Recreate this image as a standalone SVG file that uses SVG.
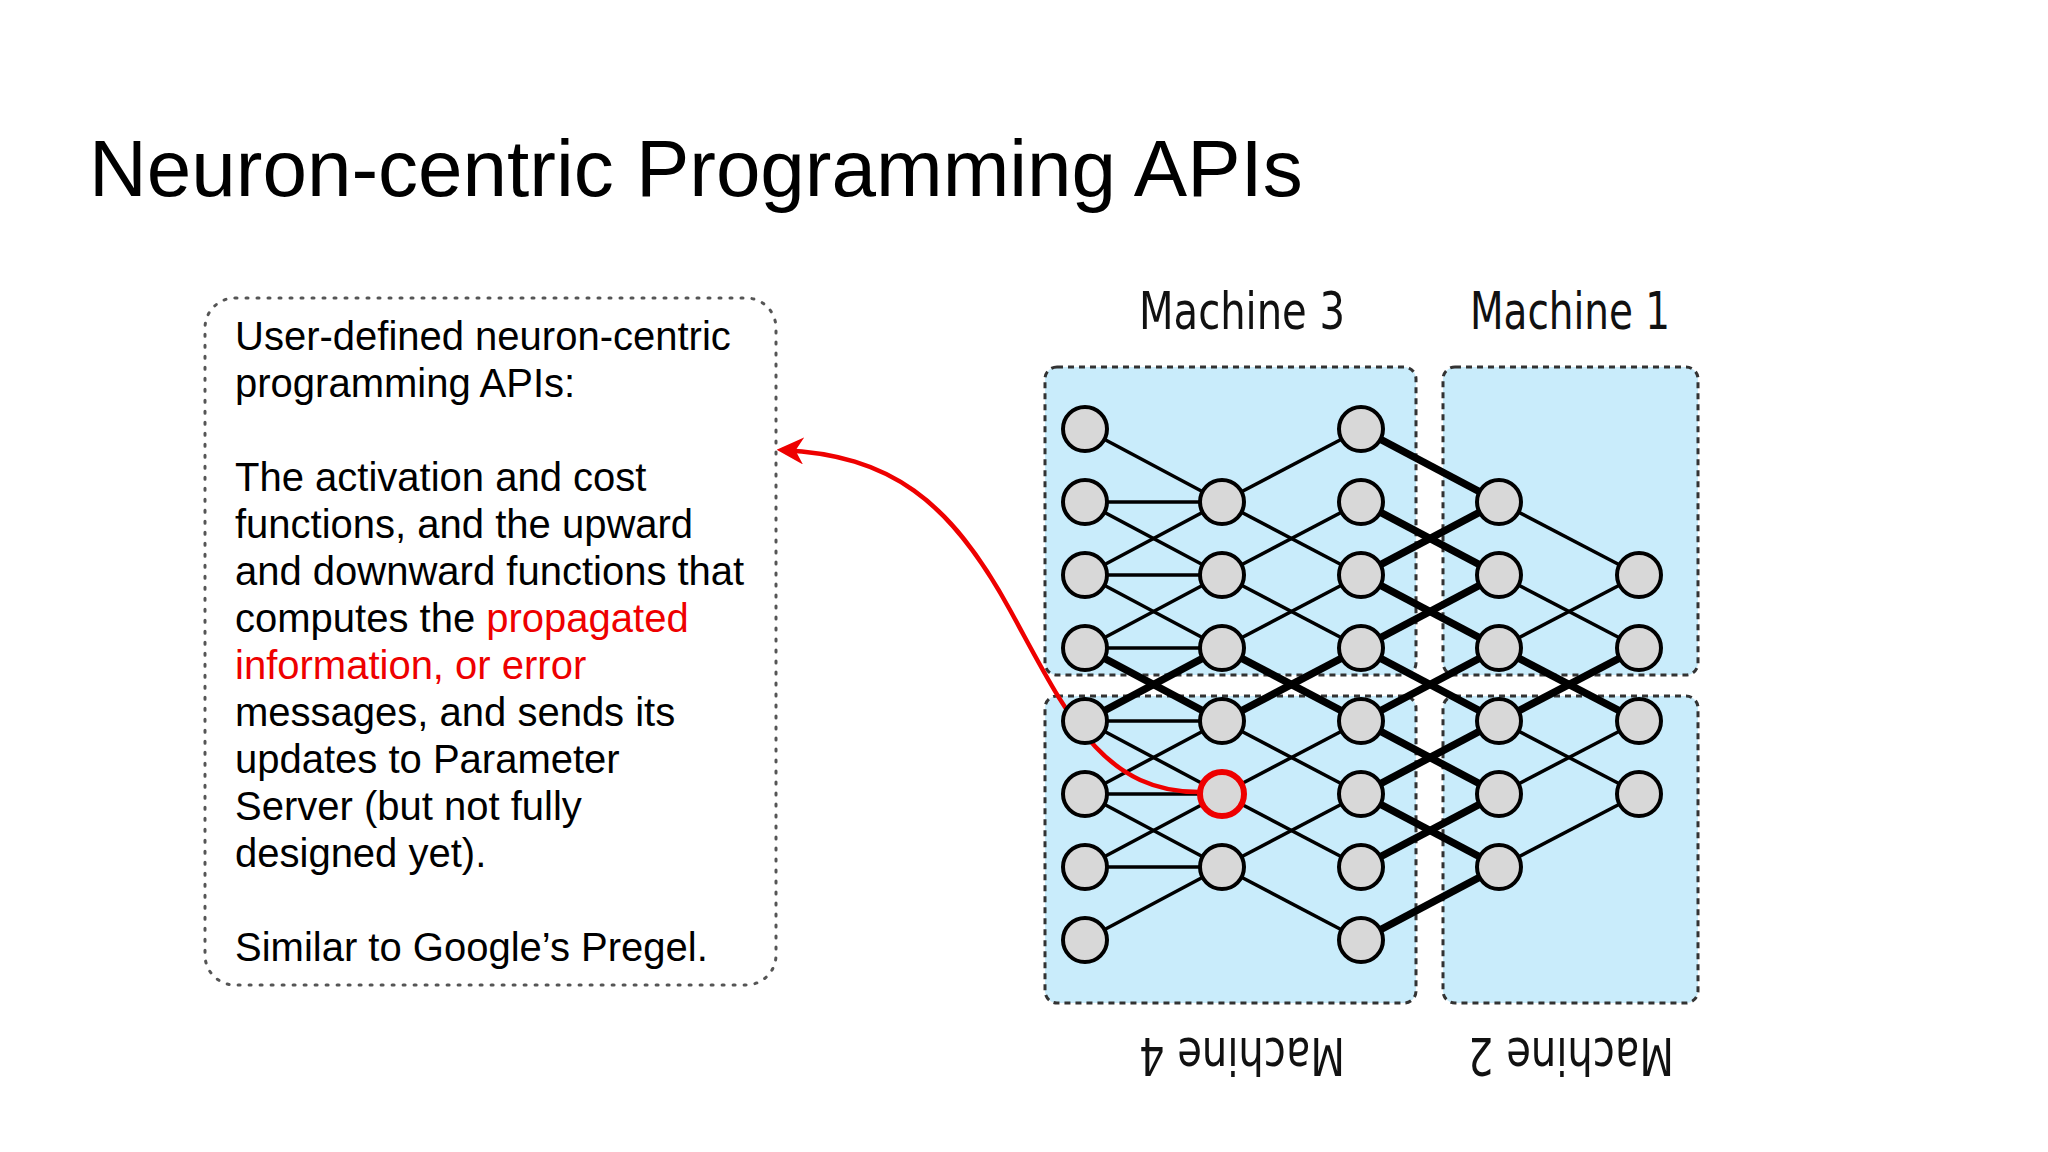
<svg xmlns="http://www.w3.org/2000/svg" width="2048" height="1152" viewBox="0 0 2048 1152">
<style>
.t{font-family:"Liberation Sans",Arial,sans-serif;font-size:40px;fill:#000}
.m{font-family:"DejaVu Sans Condensed","DejaVu Sans",sans-serif;font-size:52px;fill:#111;text-anchor:middle}
.box{fill:#c9ecfb;stroke:#333;stroke-width:3;stroke-dasharray:6,5}
.n{fill:#d8d8d8;stroke:#000;stroke-width:4}
.e{stroke:#000;stroke-width:3.5}
.k{stroke:#000;stroke-width:7.5}
</style>
<defs>
<marker id="ah" viewBox="0 0 10 10" refX="8" refY="5" markerWidth="6" markerHeight="6" orient="auto"><path d="M0,0 L10,5 L0,10 L3,5 z" fill="#e00"/></marker>
</defs>
<rect width="2048" height="1152" fill="#fff"/>
<text x="89" y="196" font-family="Liberation Sans,Arial,sans-serif" font-size="80">Neuron-centric Programming APIs</text>
<g id="textbox">
<rect x="205" y="298" width="571" height="687" rx="30" fill="none" stroke="#555" stroke-width="3" stroke-dasharray="2,9" stroke-linecap="round"/>
<text class="t" x="235" y="350">User-defined neuron-centric</text>
<text class="t" x="235" y="397">programming APIs:</text>
<text class="t" x="235" y="491">The activation and cost</text>
<text class="t" x="235" y="538">functions, and the upward</text>
<text class="t" x="235" y="585">and downward functions that</text>
<text class="t" x="235" y="632">computes the <tspan fill="#e00">propagated</tspan></text>
<text class="t" x="235" y="679" style="fill:#e00">information, or error</text>
<text class="t" x="235" y="726">messages, and sends its</text>
<text class="t" x="235" y="773">updates to Parameter</text>
<text class="t" x="235" y="820">Server (but not fully</text>
<text class="t" x="235" y="867">designed yet).</text>
<text class="t" x="235" y="961">Similar to Google’s Pregel.</text>
</g>
<g id="machines">
<rect class="box" x="1045" y="367" width="371" height="308" rx="12"/>
<rect class="box" x="1443" y="367" width="255" height="308" rx="12"/>
<rect class="box" x="1045" y="696" width="371" height="307" rx="12"/>
<rect class="box" x="1443" y="696" width="255" height="307" rx="12"/>
<text class="m" x="1242" y="329" textLength="206" lengthAdjust="spacingAndGlyphs">Machine 3</text>
<text class="m" x="1570" y="329" textLength="200" lengthAdjust="spacingAndGlyphs">Machine 1</text>
<text class="m" transform="translate(1242,1038) rotate(180)" textLength="206" lengthAdjust="spacingAndGlyphs">Machine 4</text>
<text class="m" transform="translate(1571,1038) rotate(180)" textLength="206" lengthAdjust="spacingAndGlyphs">Machine 2</text>
</g>
<g id="connectors">
<line class="e" x1="1085" y1="502" x2="1222" y2="502"/>
<line class="e" x1="1085" y1="575" x2="1222" y2="575"/>
<line class="e" x1="1085" y1="648" x2="1222" y2="648"/>
<line class="e" x1="1085" y1="721" x2="1222" y2="721"/>
<line class="e" x1="1085" y1="794" x2="1222" y2="794"/>
<line class="e" x1="1085" y1="867" x2="1222" y2="867"/>
<line class="e" x1="1085" y1="429" x2="1222" y2="502"/>
<line class="e" x1="1085" y1="502" x2="1222" y2="575"/>
<line class="e" x1="1085" y1="575" x2="1222" y2="648"/>
<line class="k" x1="1085" y1="648" x2="1222" y2="721"/>
<line class="e" x1="1085" y1="721" x2="1222" y2="794"/>
<line class="e" x1="1085" y1="794" x2="1222" y2="867"/>
<line class="e" x1="1085" y1="575" x2="1222" y2="502"/>
<line class="e" x1="1085" y1="648" x2="1222" y2="575"/>
<line class="k" x1="1085" y1="721" x2="1222" y2="648"/>
<line class="e" x1="1085" y1="794" x2="1222" y2="721"/>
<line class="e" x1="1085" y1="867" x2="1222" y2="794"/>
<line class="e" x1="1085" y1="940" x2="1222" y2="867"/>
<line class="e" x1="1222" y1="502" x2="1361" y2="429"/>
<line class="e" x1="1222" y1="502" x2="1361" y2="575"/>
<line class="e" x1="1222" y1="575" x2="1361" y2="502"/>
<line class="e" x1="1222" y1="575" x2="1361" y2="648"/>
<line class="e" x1="1222" y1="648" x2="1361" y2="575"/>
<line class="k" x1="1222" y1="648" x2="1361" y2="721"/>
<line class="k" x1="1222" y1="721" x2="1361" y2="648"/>
<line class="e" x1="1222" y1="721" x2="1361" y2="794"/>
<line class="e" x1="1222" y1="794" x2="1361" y2="721"/>
<line class="e" x1="1222" y1="794" x2="1361" y2="867"/>
<line class="e" x1="1222" y1="867" x2="1361" y2="794"/>
<line class="e" x1="1222" y1="867" x2="1361" y2="940"/>
<line class="k" x1="1361" y1="429" x2="1499" y2="502"/>
<line class="k" x1="1361" y1="502" x2="1499" y2="575"/>
<line class="k" x1="1361" y1="575" x2="1499" y2="502"/>
<line class="k" x1="1361" y1="575" x2="1499" y2="648"/>
<line class="k" x1="1361" y1="648" x2="1499" y2="575"/>
<line class="k" x1="1361" y1="648" x2="1499" y2="721"/>
<line class="k" x1="1361" y1="721" x2="1499" y2="648"/>
<line class="k" x1="1361" y1="721" x2="1499" y2="794"/>
<line class="k" x1="1361" y1="794" x2="1499" y2="721"/>
<line class="k" x1="1361" y1="794" x2="1499" y2="867"/>
<line class="k" x1="1361" y1="867" x2="1499" y2="794"/>
<line class="k" x1="1361" y1="940" x2="1499" y2="867"/>
<line class="e" x1="1499" y1="502" x2="1639" y2="575"/>
<line class="e" x1="1499" y1="575" x2="1639" y2="648"/>
<line class="e" x1="1499" y1="648" x2="1639" y2="575"/>
<line class="k" x1="1499" y1="648" x2="1639" y2="721"/>
<line class="k" x1="1499" y1="721" x2="1639" y2="648"/>
<line class="e" x1="1499" y1="721" x2="1639" y2="794"/>
<line class="e" x1="1499" y1="794" x2="1639" y2="721"/>
<line class="e" x1="1499" y1="867" x2="1639" y2="794"/>
<path d="M1199,792 C1100,792 1065,710 1010,610 C950,500 890,455 782,450" fill="none" stroke="#e00" stroke-width="4.5" marker-end="url(#ah)"/>
</g>
<g id="nodes">
<g id="c0"><circle class="n" cx="1085" cy="429" r="22"/><circle class="n" cx="1085" cy="502" r="22"/><circle class="n" cx="1085" cy="575" r="22"/><circle class="n" cx="1085" cy="648" r="22"/><circle class="n" cx="1085" cy="721" r="22"/><circle class="n" cx="1085" cy="794" r="22"/><circle class="n" cx="1085" cy="867" r="22"/><circle class="n" cx="1085" cy="940" r="22"/></g>
<g id="c1"><circle class="n" cx="1222" cy="502" r="22"/><circle class="n" cx="1222" cy="575" r="22"/><circle class="n" cx="1222" cy="648" r="22"/><circle class="n" cx="1222" cy="721" r="22"/><circle class="n" cx="1222" cy="794" r="22" style="stroke:#e00;stroke-width:6"/><circle class="n" cx="1222" cy="867" r="22"/></g>
<g id="c2"><circle class="n" cx="1361" cy="429" r="22"/><circle class="n" cx="1361" cy="502" r="22"/><circle class="n" cx="1361" cy="575" r="22"/><circle class="n" cx="1361" cy="648" r="22"/><circle class="n" cx="1361" cy="721" r="22"/><circle class="n" cx="1361" cy="794" r="22"/><circle class="n" cx="1361" cy="867" r="22"/><circle class="n" cx="1361" cy="940" r="22"/></g>
<g id="c3"><circle class="n" cx="1499" cy="502" r="22"/><circle class="n" cx="1499" cy="575" r="22"/><circle class="n" cx="1499" cy="648" r="22"/><circle class="n" cx="1499" cy="721" r="22"/><circle class="n" cx="1499" cy="794" r="22"/><circle class="n" cx="1499" cy="867" r="22"/></g>
<g id="c4"><circle class="n" cx="1639" cy="575" r="22"/><circle class="n" cx="1639" cy="648" r="22"/><circle class="n" cx="1639" cy="721" r="22"/><circle class="n" cx="1639" cy="794" r="22"/></g>
</g>
</svg>
